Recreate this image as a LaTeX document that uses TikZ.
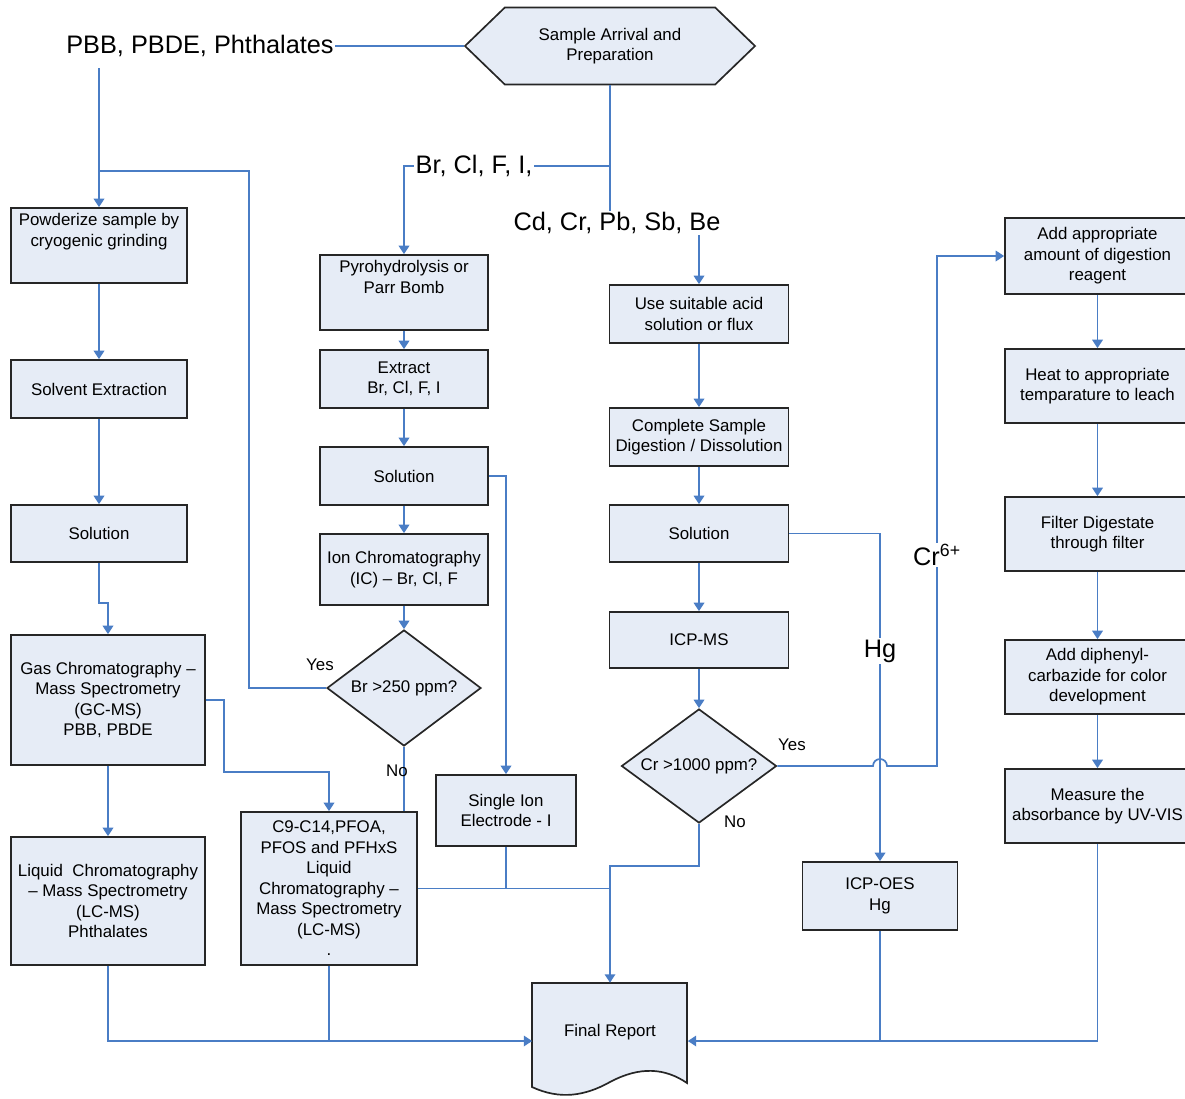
\documentclass[tikz,border=0pt]{standalone}
\usepackage{fontspec}
\setmainfont{Liberation Sans}
\usepackage{tikz}
\usetikzlibrary{arrows.meta,calc,positioning,shapes.geometric,shapes.symbols}
\definecolor{boxfill}{HTML}{E6ECF6}
\definecolor{flowblue}{HTML}{4A7DC5}
\definecolor{boxedge}{HTML}{262626}
\tikzset{
  process/.style={draw=boxedge, line width=1.2pt, fill=boxfill, align=center, inner sep=2pt, font=\fontsize{12}{14.6}\selectfont},
  decision/.style={draw=boxedge, line width=1.2pt, fill=boxfill, diamond, aspect=1.33, inner sep=1pt, align=center, font=\fontsize{12}{14.6}\selectfont},
  arrival/.style={draw=boxedge, line width=1.2pt, fill=boxfill, signal, signal to=east and west, signal pointer angle=88, align=center, inner sep=1pt, font=\fontsize{12}{14.6}\selectfont},
  species/.style={inner sep=1pt, font=\fontsize{18}{21}\selectfont},
  answer/.style={inner sep=1pt, font=\fontsize{12}{14}\selectfont},
  flow/.style={-{Triangle[length=6pt, width=7.5pt]}, flowblue, line width=1.2pt},
  link/.style={flowblue, line width=1.2pt}
}

\begin{document}
\begin{tikzpicture}[x=0.025cm, y=-0.025cm]
  \useasboundingbox (0,0) rectangle (1185,1099);

  % top: sample and the three groups
  \node[species] (phth) at (200,46) {PBB, PBDE, Phthalates};
  \node[arrival, minimum width=7.25cm, minimum height=1.925cm] (arrive) at (610,46) {Sample Arrival and\\Preparation};
  \node[species] (halo) at (474,166) {Br, Cl, F, I,};
  \node[species] (metals) at (617,223) {Cd, Cr, Pb, Sb, Be};

  % left column
  \node[process, minimum width=4.4cm, minimum height=1.875cm, text depth=22pt] (powder) at (99,245.5) {Powderize sample by\\cryogenic grinding};
  \node[process, minimum width=4.4cm, minimum height=1.45cm] (solvent) at (99,389) {Solvent Extraction};
  \node[process, minimum width=4.4cm, minimum height=1.425cm] (solleft) at (99,533.5) {Solution};
  \node[process, minimum width=4.85cm, minimum height=3.25cm] (gcms) at (108,700) {Gas Chromatography --\\Mass Spectrometry\\(GC-MS)\\PBB, PBDE};
  \node[process, minimum width=4.85cm, minimum height=3.2cm] (lcms) at (108,901) {Liquid\ \ Chromatography\\-- Mass Spectrometry\\(LC-MS)\\Phthalates};

  % middle column
  \node[process, minimum width=4.2cm, minimum height=1.875cm, text depth=22pt] (pyro) at (404,292.5) {Pyrohydrolysis or\\Parr Bomb};
  \node[process, minimum width=4.2cm, minimum height=1.45cm] (extract) at (404,379) {Extract\\Br, Cl, F, I};
  \node[process, minimum width=4.2cm, minimum height=1.45cm] (solmid) at (404,476) {Solution};
  \node[process, minimum width=4.2cm, minimum height=1.775cm] (ionchrom) at (404,569.5) {Ion Chromatography\\(IC) -- Br, Cl, F};
  \node[decision, minimum width=3.85cm, minimum height=2.9cm] (brcheck) at (404,688) {Br >250 ppm?};
  \node[process, minimum width=4.4cm, minimum height=3.825cm] (pfas) at (329,888.5) {C9-C14,PFOA,\\PFOS and PFHxS\\Liquid\\Chromatography --\\Mass Spectrometry\\(LC-MS)\\.};
  \node[process, minimum width=3.5cm, minimum height=1.775cm] (ise) at (506,810.5) {Single Ion\\Electrode - I};

  % metals column
  \node[process, minimum width=4.475cm, minimum height=1.45cm] (acid) at (699,314) {Use suitable acid\\solution or flux};
  \node[process, minimum width=4.475cm, minimum height=1.45cm] (digest) at (699,437) {Complete Sample\\Digestion / Dissolution};
  \node[process, minimum width=4.475cm, minimum height=1.425cm] (solright) at (699,533.5) {Solution};
  \node[process, minimum width=4.475cm, minimum height=1.4cm] (icpms) at (699,640) {ICP-MS};
  \node[decision, minimum width=3.875cm, minimum height=2.85cm] (crcheck) at (699,766) {Cr >1000 ppm?};
  \node[process, minimum width=3.875cm, minimum height=1.7cm] (icpoes) at (880,896) {ICP-OES\\Hg};

  % final report (document shape)
  \draw[draw=boxedge, line width=1.2pt, fill=boxfill] (532,983) -- (687,983) -- (687,1083)
    .. controls (665,1068) and (640,1066) .. (610,1082)
    .. controls (585,1096) and (560,1100) .. (532,1087) -- cycle;
  \node[minimum width=3.875cm, minimum height=2.9cm, inner sep=0pt, font=\fontsize{12}{14.6}\selectfont] (report) at (610,1041) {\raisebox{15pt}{Final Report}};

  % Cr(VI) column
  \node[process, minimum width=4.625cm, minimum height=1.9cm] (reagent) at (1097.5,256) {Add appropriate\\amount of digestion\\reagent};
  \node[process, minimum width=4.625cm, minimum height=1.85cm] (heat) at (1097.5,386) {Heat to appropriate\\temparature to leach};
  \node[process, minimum width=4.625cm, minimum height=1.85cm] (filter) at (1097.5,534) {Filter Digestate\\through filter};
  \node[process, minimum width=4.625cm, minimum height=1.85cm] (colour) at (1097.5,677) {Add diphenyl-\\carbazide for color\\development};
  \node[process, minimum width=4.625cm, minimum height=1.85cm] (uvvis) at (1097.5,806) {Measure the\\absorbance by UV-VIS};

  % connectors from the top
  \draw[link] (phth.east) -- (arrive.west);
  \draw[flow] ([yshift=-0.25cm]phth.south -| powder.north) -- (powder.north);
  \coordinate (yesturn) at (249,171);
  \draw[link] (brcheck.west) -| (yesturn) -- (powder.north |- yesturn);
  \draw[link] (arrive.south) -- (arrive.south |- metals.north);
  \draw[link] (halo.east) -- (arrive.south |- halo.east);
  \draw[flow] (halo.west) -| (pyro.north);
  \draw[flow] (metals.south -| acid.north) -- (acid.north);

  % left column
  \draw[flow] (powder.south) -- (solvent.north);
  \draw[flow] (solvent.south) -- (solleft.north);
  \draw[flow] (solleft.south) -- ++(0,40) -| (gcms.north);
  \draw[flow] (gcms.south) -- (lcms.north);
  \draw[flow] (gcms.east) -| ++(18,72) -| (pfas.north);
  \draw[flow] (lcms.south) |- (report.west);
  \draw[link] (pfas.south) -- (pfas.south |- report.west);

  % middle column
  \draw[flow] (pyro.south) -- (extract.north);
  \draw[flow] (extract.south) -- (solmid.north);
  \draw[flow] (solmid.south) -- (ionchrom.north);
  \draw[flow] (ionchrom.south) -- (brcheck.north);
  \draw[flow] (solmid.east) -| (ise.north);
  \draw[link] (brcheck.south) -- (brcheck.south |- pfas.north);
  \draw[link] (pfas.east) -- (pfas.east -| report.north);
  \draw[link] (ise.south) -- (ise.south |- pfas.east);
  \draw[flow] (pfas.east -| report.north) -- (report.north);

  % metals column
  \draw[flow] (acid.south) -- (digest.north);
  \draw[flow] (digest.south) -- (solright.north);
  \draw[flow] (solright.south) -- (icpms.north);
  \draw[flow] (icpms.south) -- (crcheck.north);
  \draw[link] (crcheck.south) -- ++(0,42) -| (pfas.east -| report.north);
  \draw[flow] (solright.east) -| (icpoes.north);
  \draw[link] (icpoes.south) -- (icpoes.south |- report.east);

  % Cr(VI) column
  \draw[flow] (reagent.south) -- (heat.north);
  \draw[flow] (heat.south) -- (filter.north);
  \draw[flow] (filter.south) -- (colour.north);
  \draw[flow] (colour.south) -- (uvvis.north);
  \draw[flow] (uvvis.south) |- (report.east);

  % labels on the lines
  \node[species, fill=white] (hglab) at (880,651) {Hg};
  \node[species, fill=white] (cr6lab) at (937,555) {Cr\textsuperscript{6+}};
  \draw[flow] (crcheck.east) -- ([xshift=-0.175cm]crcheck.east -| icpoes.north)
    arc[start angle=180, end angle=0, radius=0.175cm] -- (crcheck.east -| cr6lab) |- (reagent.west);
  \node[species, fill=white] at (cr6lab) {Cr\textsuperscript{6+}};
  \node[answer] (bryes) at (320,665) {Yes};
  \node[answer] (brno) at (397,771) {No};
  \node[answer] (cryes) at (792,745) {Yes};
  \node[answer] (crno) at (735,822) {No};
\end{tikzpicture}
\end{document}
